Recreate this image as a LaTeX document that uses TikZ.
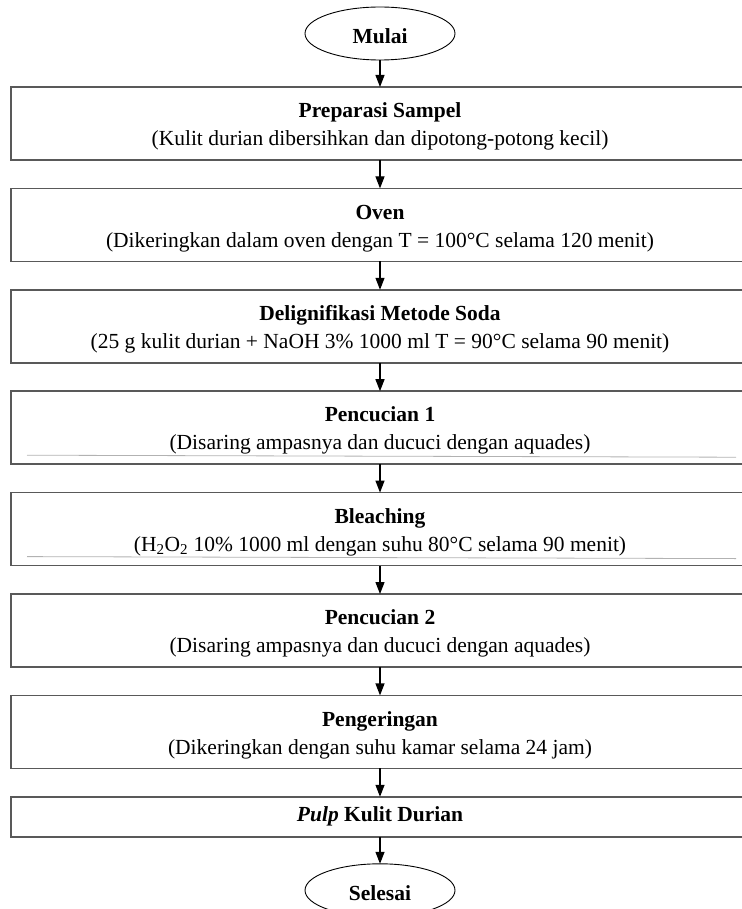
\documentclass[tikz,border=0pt]{standalone}
\usepackage{fontspec}
\setmainfont{Liberation Serif}
\usepackage{tikz}
\usetikzlibrary{shapes,arrows}
\usetikzlibrary{arrows.meta, positioning}
\newcommand{\steptitle}[1]{\rule{0pt}{21pt}\textbf{#1}}

\begin{document}
\begin{tikzpicture}[x=1pt, y=1pt, node distance=28.4pt,
    >={Triangle[width=9pt,length=12pt]},
    every node/.style={font=\fontsize{21.5}{28}\selectfont},
    box/.style={draw=black!65, line width=1.6pt, minimum width=738pt, minimum height=73pt, align=center, inner sep=0pt, outer sep=0pt},
    terminal/.style={draw, ellipse, line width=0.9pt, minimum width=150pt, minimum height=53pt, inner sep=0pt, outer sep=0pt, text height=21pt, text depth=0pt, font=\fontsize{21.5}{28}\selectfont\bfseries},
    innerline/.style={draw=black!30, line width=0.8pt}]
            \useasboundingbox (0,0) rectangle (741,-909);
            \node[terminal] (0) at (380,-33.5) {Mulai};
            \node[box] (1) [below=27pt of 0] {\steptitle{Preparasi Sampel}\\(Kulit durian dibersihkan dan dipotong-potong kecil)};
            \node[box] (2) [below=of 1] {\steptitle{Oven}\\(Dikeringkan dalam oven dengan T = 100°C selama 120 menit)};
            \node[box] (3) [below=of 2] {\steptitle{Delignifikasi Metode Soda}\\(25 g kulit durian + NaOH 3\% 1000 ml T = 90°C selama 90 menit)};
            \node[box] (4) [below=of 3] {\steptitle{Pencucian 1}\\(Disaring ampasnya dan ducuci dengan aquades)};
            \node[box] (5) [below=of 4] {\steptitle{Bleaching}\\(H\textsubscript{2}O\textsubscript{2} 10\% 1000 ml dengan suhu 80°C selama 90 menit)};
            \node[box] (6) [below=of 5] {\steptitle{Pencucian 2}\\(Disaring ampasnya dan ducuci dengan aquades)};
            \node[box] (7) [below=of 6] {\steptitle{Pengeringan}\\(Dikeringkan dengan suhu kamar selama 24 jam)};
            \node[box, minimum height=40pt] (8) [below=of 7] {\textbf{\textit{Pulp} Kulit Durian}};
            \node[terminal] (9) [below=27pt of 8] {Selesai};
            \foreach \a/\b in {0/1, 1/2, 2/3, 3/4, 4/5, 5/6, 6/7, 7/8, 8/9}
                \draw[->, line width=1.2pt] (\a) -- (\b);
            \draw[innerline] ([shift={(16pt,9pt)}]4.south west) -- ([shift={(-13pt,7pt)}]4.south east);
            \draw[innerline] ([shift={(16pt,9pt)}]5.south west) -- ([shift={(-13pt,7pt)}]5.south east);
        \end{tikzpicture}
\end{document}
